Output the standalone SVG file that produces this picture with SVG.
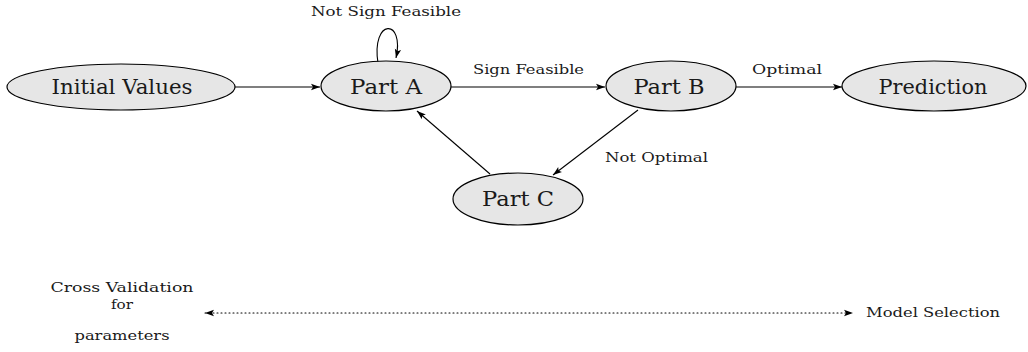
<svg xmlns="http://www.w3.org/2000/svg" width="1028" height="352" viewBox="0 0 1028 352">
<style>
.node ellipse{fill:#e6e6e6;stroke:#000;stroke-width:1.2}
.node text{font-size:21px;fill:#1a1a1a;text-anchor:middle}
.edge{fill:none;stroke:#000;stroke-width:1.1}
.lbl{font-size:12px;fill:#1a1a1a}
.side{font-size:13px;fill:#1a1a1a}
</style>
<defs>
<marker id="arr" markerUnits="userSpaceOnUse" markerWidth="10" markerHeight="8" refX="9" refY="4" orient="auto">
<path d="M0,0.8 L9,4 L0,7.2 L2,4 z" fill="#000"/>
</marker>
<marker id="arrS" markerUnits="userSpaceOnUse" markerWidth="10" markerHeight="8" refX="9" refY="4" orient="auto-start-reverse">
<path d="M0,0.8 L9,4 L0,7.2 L2,4 z" fill="#000"/>
</marker>
</defs>
<g id="connectors">
<line class="edge" x1="235" y1="87" x2="320" y2="87" marker-end="url(#arr)"/>
<line class="edge" x1="451" y1="87" x2="605" y2="87" marker-end="url(#arr)"/>
<line class="edge" x1="736" y1="87" x2="842" y2="87" marker-end="url(#arr)"/>
<line class="edge" x1="638" y1="110" x2="553" y2="175" marker-end="url(#arr)"/>
<line class="edge" x1="490" y1="174" x2="417" y2="111" marker-end="url(#arr)"/>
<path class="edge" d="M378,63 C371,18 405,18 396,58" marker-end="url(#arr)"/>
<line class="edge" x1="205" y1="313" x2="853" y2="313" stroke-dasharray="1,3" stroke-linecap="round" marker-start="url(#arrS)" marker-end="url(#arr)"/>
<g font-family="'DejaVu Serif', serif">
<text class="lbl" x="311" y="16" textLength="150" lengthAdjust="spacingAndGlyphs">Not Sign Feasible</text>
<text class="lbl" x="473" y="74" textLength="111" lengthAdjust="spacingAndGlyphs">Sign Feasible</text>
<text class="lbl" x="752" y="74" textLength="70" lengthAdjust="spacingAndGlyphs">Optimal</text>
<text class="lbl" x="605" y="162" textLength="103" lengthAdjust="spacingAndGlyphs">Not Optimal</text>
</g>
</g>
<g id="initial" class="node" font-family="'DejaVu Serif', serif">
<ellipse cx="121" cy="87" rx="114" ry="23"/>
<text x="122" y="94" textLength="141" lengthAdjust="spacingAndGlyphs">Initial Values</text>
</g>
<g id="partA" class="node" font-family="'DejaVu Serif', serif">
<ellipse cx="386" cy="86" rx="65" ry="25"/>
<text x="386" y="94" textLength="72" lengthAdjust="spacingAndGlyphs">Part A</text>
</g>
<g id="partB" class="node" font-family="'DejaVu Serif', serif">
<ellipse cx="671" cy="86" rx="65" ry="25"/>
<text x="669" y="94" textLength="71" lengthAdjust="spacingAndGlyphs">Part B</text>
</g>
<g id="prediction" class="node" font-family="'DejaVu Serif', serif">
<ellipse cx="934" cy="86" rx="92" ry="25"/>
<text x="933" y="94" textLength="109" lengthAdjust="spacingAndGlyphs">Prediction</text>
</g>
<g id="partC" class="node" font-family="'DejaVu Serif', serif">
<ellipse cx="518" cy="199" rx="65" ry="26"/>
<text x="518" y="206" textLength="72" lengthAdjust="spacingAndGlyphs">Part C</text>
</g>
<g id="cv" font-family="'DejaVu Serif', serif">
<text class="side" x="122" y="292" text-anchor="middle" textLength="143" lengthAdjust="spacingAndGlyphs">Cross Validation</text>
<text class="side" x="122" y="309" text-anchor="middle" textLength="22" lengthAdjust="spacingAndGlyphs">for</text>
<text class="side" x="122" y="340" text-anchor="middle" textLength="95" lengthAdjust="spacingAndGlyphs">parameters</text>
</g>
<g id="ms" font-family="'DejaVu Serif', serif">
<text class="side" x="866" y="317" textLength="134" lengthAdjust="spacingAndGlyphs">Model Selection</text>
</g>
</svg>
